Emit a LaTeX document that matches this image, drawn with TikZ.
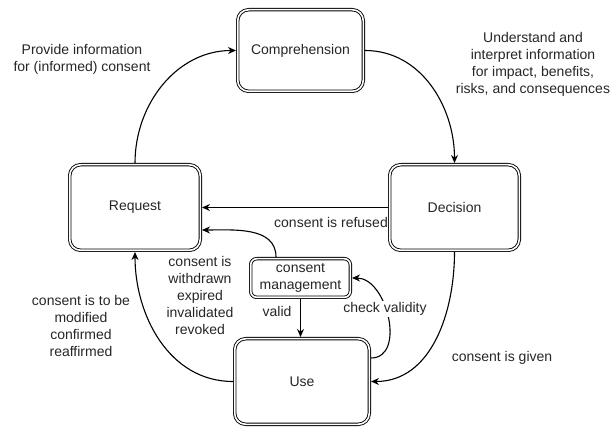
\documentclass[tikz,border=0pt]{standalone}
\usepackage{fontspec}
\setmainfont{Liberation Sans}
\usetikzlibrary{arrows.meta}
\begin{document}
\begin{tikzpicture}[x=1pt,y=1pt,
  box/.style={draw=black, line width=0.9pt, double=white, double distance=1.6pt,
    rounded corners=11pt, fill=white, outer sep=1.7pt, inner sep=0pt,
    font=\fontsize{14}{17}\selectfont, text=black!85, align=center},
  lbl/.style={font=\fontsize{14}{17}\selectfont, text=black!85, align=center, inner sep=1pt},
  conn/.style={line width=1.1pt, -{Stealth[length=8pt,width=7pt]}}]
\useasboundingbox (0,0) rectangle (612,428);
% label partly hidden behind Decision box
\node[lbl] (lrefused) at (331,206) {consent is refused};
% boxes
\node[box, minimum width=125.6pt, minimum height=81.6pt] (comp) at (300.5,377.5) {Comprehension};
\node[box, minimum width=129.6pt, minimum height=85.6pt] (dec) at (454.5,220.5) {Decision};
\node[box, minimum width=130.6pt, minimum height=85.6pt] (req) at (135,220.5) {Request};
\node[box, minimum width=134.6pt, minimum height=85.6pt] (use) at (302,46.5) {Use};
\node[box, minimum width=99.6pt, minimum height=38.6pt, rounded corners=6pt] (cm) at (300.5,150) {consent\\management};
% connectors
\draw[conn] (req.north) to[out=90,in=180] (comp.west);
\draw[conn] (comp.east) to[out=0,in=90] (dec.north);
\draw[conn] (dec.west) -- (req.east);
\draw[conn] ([xshift=-24.5pt]cm.north) to[out=90,in=0] ([yshift=-22.5pt]req.east);
\draw[conn] (cm.south) -- (cm.south |- use.north);
\draw[conn] ([yshift=23.5pt]use.east) to[out=0,in=0,looseness=1.1] (cm.east);
\draw[conn] (dec.south) to[out=270,in=0] (use.east);
\draw[conn] (use.west) to[out=180,in=270] (req.south);
% labels
\node[lbl] (lprov) at (82,369) {Provide information\\for (informed) consent};
\node[lbl] (lund) at (533,363.5) {Understand and\\interpret information\\for impact, benefits,\\risks, and consequences};
\node[lbl] (lwith) at (200,132.5) {consent is\\withdrawn\\expired\\invalidated\\revoked};
\node[lbl] (lvalid) at (277,117) {valid};
\node[lbl, fill=white] (lcheck) at (385,119) {check validity};
\node[lbl] (lgiven) at (502,70) {consent is given};
\node[lbl] (lmod) at (81,102.5) {consent is to be\\modified\\confirmed\\reaffirmed};
\end{tikzpicture}
\end{document}
